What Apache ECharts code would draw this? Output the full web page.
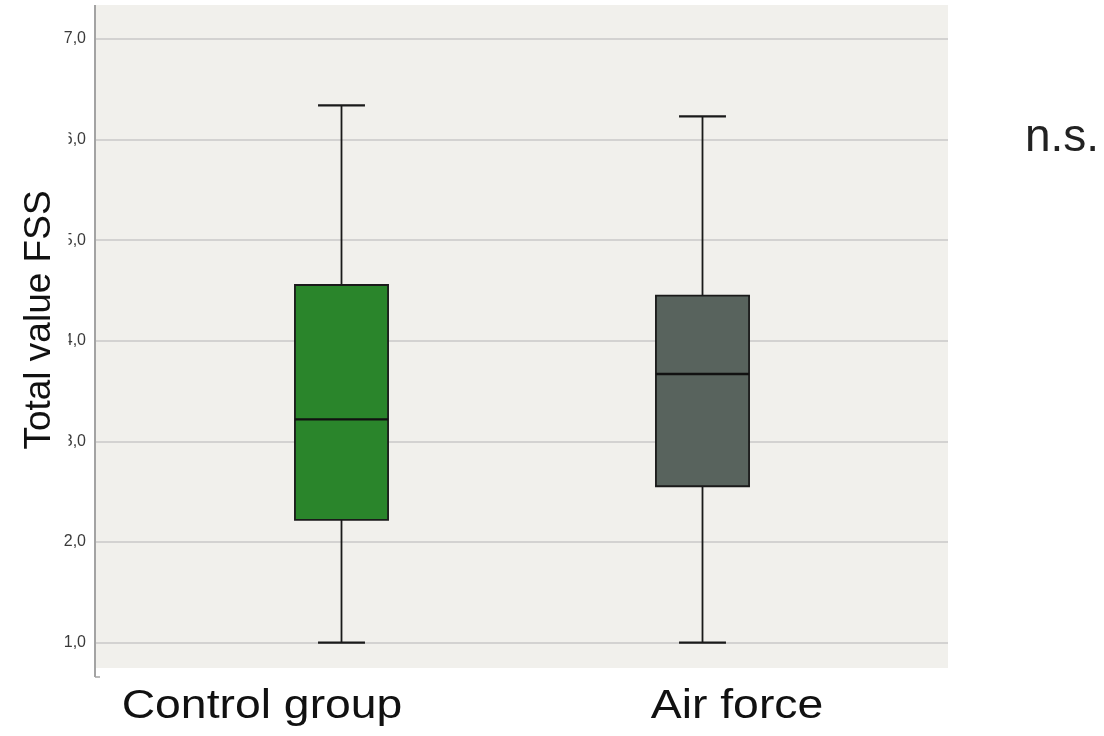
<!DOCTYPE html>
<html>
<head>
<meta charset="utf-8">
<script src="https://cdn.jsdelivr.net/npm/echarts@6/dist/echarts.min.js"></script>
<style>
html,body{margin:0;padding:0;background:#fff;}
#chart{width:1104px;height:736px;}
</style>
</head>
<body>
<div id="chart"></div>
<script>
// ---- data ----
const categories = ['Control group', 'Air force'];
const whiskerLow  = [1.0, 1.0];
const quartile1   = [2.22, 2.555];
const medianVals  = [3.22, 3.67];
const quartile3   = [4.555, 4.45];
const whiskerHigh = [6.34, 6.23];
const boxColors   = ['#2a852b', '#58635d'];
const yTickLabels = ['1,0', '2,0', '3,0', '4,0', '5,0', '6,0', '7,0'];
const yTitle = 'Total value FSS';
const annotation = 'n.s.';

const FONT = "'Liberation Sans', Arial, sans-serif";

const seriesData = categories.map((c, i) => [i, whiskerLow[i], quartile1[i], medianVals[i], quartile3[i], whiskerHigh[i]]);

const chart = echarts.init(document.getElementById('chart'), null, {renderer: 'canvas'});

const lineStroke = '#1a1a1a';

const option = {
  backgroundColor: '#ffffff',
  animation: false,
  grid: [
    {left: 95, width: 853, top: 39, height: 603.7, show: false},
    {left: 161, width: 722, top: 39, height: 603.7, show: false}
  ],
  xAxis: [
    {gridIndex: 0, type: 'value', min: 0, max: 1, show: false},
    {gridIndex: 1, type: 'category', data: categories, show: false}
  ],
  yAxis: [
    {
      gridIndex: 0, type: 'value', min: 1, max: 7, interval: 1,
      axisLine: {show: false}, axisTick: {show: false},
      axisLabel: {
        margin: 9, color: '#3a3a3a', fontFamily: FONT, fontSize: 16,
        formatter: v => yTickLabels[Math.round(v) - 1]
      },
      splitLine: {show: true, lineStyle: {color: '#c8c8c8', width: 1.6}}
    },
    {gridIndex: 1, type: 'value', min: 1, max: 7, interval: 1, show: false, splitLine: {show: false}}
  ],
  series: [{
    type: 'custom',
    xAxisIndex: 1, yAxisIndex: 1,
    data: seriesData,
    encode: {x: 0, y: [1, 2, 3, 4, 5]},
    renderItem: function (params, api) {
      const idx = api.value(0);
      const band = api.size([1, 0])[0];
      const bw = band * 0.258;
      const cw = band * 0.13;
      const pLo = api.coord([idx, api.value(1)]);
      const pQ1 = api.coord([idx, api.value(2)]);
      const pMed = api.coord([idx, api.value(3)]);
      const pQ3 = api.coord([idx, api.value(4)]);
      const pHi = api.coord([idx, api.value(5)]);
      const cx = pLo[0];
      const ls = {stroke: lineStroke, lineWidth: 1.8};
      return {
        type: 'group',
        children: [
          {type: 'line', shape: {x1: cx, y1: pHi[1], x2: cx, y2: pQ3[1]}, style: ls},
          {type: 'line', shape: {x1: cx, y1: pQ1[1], x2: cx, y2: pLo[1]}, style: ls},
          {type: 'line', shape: {x1: cx - cw / 2, y1: pHi[1], x2: cx + cw / 2, y2: pHi[1]}, style: {stroke: lineStroke, lineWidth: 2.2}},
          {type: 'line', shape: {x1: cx - cw / 2, y1: pLo[1], x2: cx + cw / 2, y2: pLo[1]}, style: {stroke: lineStroke, lineWidth: 2.2}},
          {type: 'rect', shape: {x: cx - bw / 2, y: pQ3[1], width: bw, height: pQ1[1] - pQ3[1]},
            style: {fill: boxColors[idx], stroke: lineStroke, lineWidth: 1.8}},
          {type: 'line', shape: {x1: cx - bw / 2, y1: pMed[1], x2: cx + bw / 2, y2: pMed[1]},
            style: {stroke: '#111', lineWidth: 2.4}}
        ]
      };
    }
  }],
  graphic: [
    {type: 'rect', z: -5, shape: {x: 96, y: 5, width: 852, height: 663}, style: {fill: '#f1f0ec'}},
    {type: 'line', z: 5, shape: {x1: 95, y1: 5, x2: 95, y2: 677}, style: {stroke: '#a3a3a3', lineWidth: 2}},
    {type: 'line', z: 5, shape: {x1: 95, y1: 677, x2: 100, y2: 677}, style: {stroke: '#a3a3a3', lineWidth: 1.5}},
    {type: 'rect', z: 50, shape: {x: 0, y: 125, width: 68.5, height: 328}, style: {fill: '#ffffff'}},
    {type: 'text', z: 51, x: 40, y: 320, rotation: Math.PI / 2,
      style: {text: yTitle, font: '37px ' + FONT, fill: '#111', align: 'center', verticalAlign: 'middle'}},
    {type: 'text', z: 51, x: 262, y: 707, scaleX: 1.13,
      style: {text: categories[0], font: '41px ' + FONT, fill: '#111', align: 'center', verticalAlign: 'middle'}},
    {type: 'text', z: 51, x: 737, y: 707, scaleX: 1.13,
      style: {text: categories[1], font: '41px ' + FONT, fill: '#111', align: 'center', verticalAlign: 'middle'}},
    {type: 'text', z: 51, x: 1025, y: 138,
      style: {text: annotation, font: '46px ' + FONT, fill: '#222', align: 'left', verticalAlign: 'middle'}}
  ]
};
chart.setOption(option);
</script>
</body>
</html>
